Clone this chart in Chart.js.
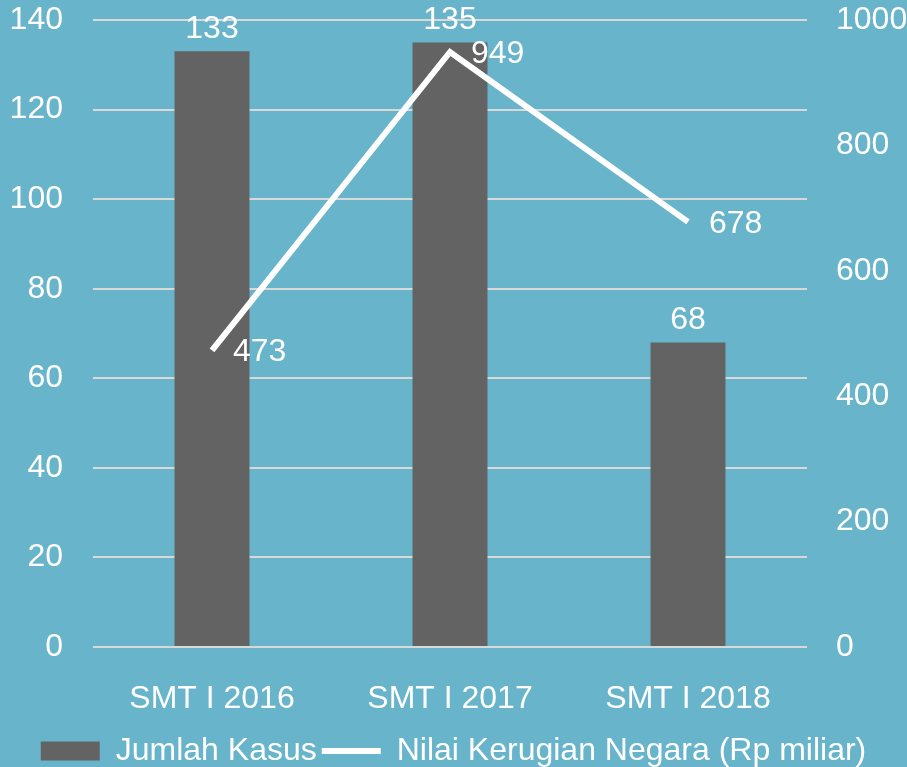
<!DOCTYPE html>
<html>
<head>
<meta charset="utf-8">
<script src="https://cdn.jsdelivr.net/npm/chart.js@4.4.1/dist/chart.umd.min.js"></script>
<style>
  html, body { margin: 0; padding: 0; background: #68B4CB; }
  canvas { display: block; }
</style>
</head>
<body>
<canvas id="chart" width="907" height="767"></canvas>
<script>
// data
const categories = ['SMT I 2016', 'SMT I 2017', 'SMT I 2018'];
const jumlahKasus = [133, 135, 68];
const nilaiKerugian = [473, 949, 678];
const leftTicks = [0, 20, 40, 60, 80, 100, 120, 140];
const rightTicks = [0, 200, 400, 600, 800, 1000];

const FONT = "'Liberation Sans', Arial, sans-serif";
Chart.defaults.font.family = FONT;
Chart.defaults.font.size = 32;
Chart.defaults.color = '#ffffff';

// value labels: above bars, right of line points
const valueLabels = {
    id: 'valueLabels',
    afterDatasetsDraw(chart) {
        const ctx = chart.ctx;
        ctx.save();
        ctx.font = '32px ' + FONT;
        ctx.fillStyle = '#ffffff';
        chart.getDatasetMeta(0).data.forEach((bar, i) => {
            ctx.textAlign = 'center';
            ctx.textBaseline = 'bottom';
            ctx.fillText(String(jumlahKasus[i]), bar.x, bar.y - 6);
        });
        chart.getDatasetMeta(1).data.forEach((pt, i) => {
            ctx.textAlign = 'left';
            ctx.textBaseline = 'middle';
            ctx.fillText(String(nilaiKerugian[i]), pt.x + 21, pt.y + 2);
        });
        ctx.restore();
    }
};

// keep the tick padding from pushing the plot area down
const yFit = width => s => {
    s.width = width;
    s.paddingTop = 20;
    s.paddingBottom = 10;
};

new Chart(document.getElementById('chart'), {
    data: {
        labels: categories,
        datasets: [{
            type: 'bar',
            label: 'Jumlah Kasus',
            data: jumlahKasus,
            backgroundColor: '#636363',
            borderWidth: 0,
            barPercentage: 0.315,
            categoryPercentage: 1,
            pointStyle: 'rect',
            yAxisID: 'y',
            order: 2
        }, {
            type: 'line',
            label: 'Nilai Kerugian Negara (Rp miliar)',
            data: nilaiKerugian,
            borderColor: '#ffffff',
            backgroundColor: '#ffffff',
            borderWidth: 6,
            tension: 0,
            pointRadius: 0,
            pointStyle: 'line',
            yAxisID: 'y1',
            order: 1
        }]
    },
    options: {
        responsive: false,
        animation: false,
        layout: { padding: { top: 0, bottom: -10 } },
        plugins: {
            tooltip: { enabled: false },
            legend: {
                position: 'bottom',
                labels: {
                    usePointStyle: true,
                    pointStyleWidth: 59,
                    boxHeight: 19,
                    padding: 5,
                    color: '#ffffff',
                    font: { size: 32 },
                    sort: (a, b) => a.datasetIndex - b.datasetIndex
                }
            }
        },
        scales: {
            x: {
                grid: { display: false, drawTicks: false },
                border: { display: false },
                ticks: { padding: 33, color: '#ffffff' },
                afterFit: s => { s.height = 83; }
            },
            y: {
                position: 'left',
                min: 0,
                max: 140,
                afterBuildTicks: s => { s.ticks = leftTicks.map(v => ({ value: v })); },
                afterFit: yFit(93),
                grid: { color: '#D9D9D9', lineWidth: 2, drawTicks: false },
                border: { display: false },
                ticks: { padding: 30, color: '#ffffff' }
            },
            y1: {
                position: 'right',
                min: 0,
                max: 1000,
                afterBuildTicks: s => { s.ticks = rightTicks.map(v => ({ value: v })); },
                afterFit: yFit(100),
                grid: { display: false, drawTicks: false },
                border: { display: false },
                ticks: { padding: 29, color: '#ffffff', callback: v => String(v) }
            }
        }
    },
    plugins: [valueLabels]
});
</script>
</body>
</html>
